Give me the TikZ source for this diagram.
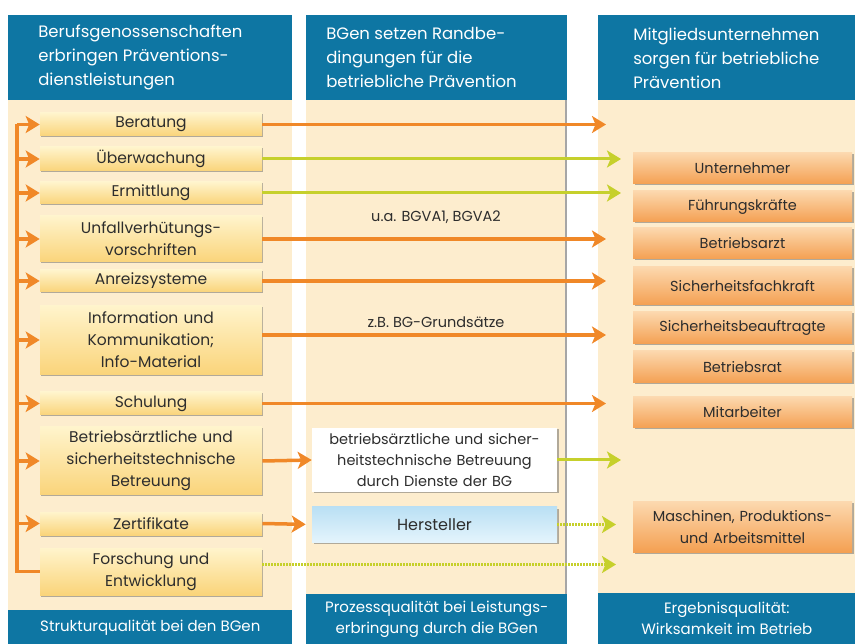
\documentclass[tikz,border=0pt]{standalone}
\usepackage{fontspec}
\setmainfont{Poppins}
\usetikzlibrary{arrows.meta,positioning,shadows}
\definecolor{bgblue}{RGB}{14,118,163}
\definecolor{bgbeige}{RGB}{253,237,206}
\definecolor{arrorange}{RGB}{240,136,40}
\definecolor{arrgreen}{RGB}{198,208,44}
\definecolor{yeltop}{RGB}{255,244,204}
\definecolor{yelbot}{RGB}{250,212,122}
\definecolor{ortop}{RGB}{252,216,174}
\definecolor{orbot}{RGB}{244,160,82}
\definecolor{bltop}{RGB}{186,224,244}
\definecolor{blbot}{RGB}{228,244,252}
\definecolor{txtgray}{RGB}{45,45,45}

\begin{document}
\begin{tikzpicture}[x=1pt,y=-1pt,semithick,
    headbox/.style={fill=bgblue,anchor=north west,inner sep=0pt},
    headtxt/.style={text=white,align=left,anchor=west,inner sep=0pt,font=\fontsize{16.5}{24}\selectfont},
    footbox/.style={fill=bgblue,text=white,align=center,anchor=north west,inner sep=0pt,font=\fontsize{15}{21}\selectfont},
    lbox/.style={top color=yeltop,bottom color=yelbot,text=txtgray,text width=222pt,inner xsep=0pt,inner ysep=0pt,align=center,
        font=\fontsize{15.5}{22}\selectfont,drop shadow={shadow xshift=1pt,shadow yshift=-1.5pt,fill=black!60,opacity=0.5}},
    rbox/.style={top color=ortop,bottom color=orbot,text=txtgray,text width=219pt,inner xsep=0pt,inner ysep=0pt,align=center,
        font=\fontsize{14.5}{22}\selectfont,drop shadow={shadow xshift=1.5pt,shadow yshift=-1.5pt,fill=black!60,opacity=0.5}},
    mbox/.style={text=txtgray,text width=245pt,inner xsep=0pt,inner ysep=0pt,align=center,
        font=\fontsize{14.5}{21}\selectfont,drop shadow={shadow xshift=1.5pt,shadow yshift=-1.5pt,fill=black!60,opacity=0.5}},
    lab/.style={text=txtgray,inner sep=0pt,font=\fontsize{14.5}{20}\selectfont},
    oarr/.style={draw=arrorange,line width=3.5pt,-{Stealth[length=14pt,width=17pt,inset=3.5pt]}},
    garr/.style={draw=arrgreen,line width=3pt,-{Stealth[length=14pt,width=17pt,inset=3.5pt]}},
    gdot/.style={draw=arrgreen,line width=2.5pt,dash pattern=on 1.5pt off 1.5pt,-{Stealth[length=14pt,width=17pt,inset=3.5pt]}},
    oline/.style={draw=arrorange,line width=3.5pt}]
\useasboundingbox (0,0) rectangle (855,644);

\fill[bgbeige] (8,100) rectangle (292,610);
\fill[bgbeige] (306,100) rectangle (567,594);
\fill[bgbeige] (598,100) rectangle (855,593);
\draw[black!35,line width=1.5pt] (566,100) -- (566,594);

\node[headbox,minimum width=284pt,minimum height=85pt] (h1) at (8,15) {};
\node[headbox,minimum width=261pt,minimum height=85pt] (h2) at (306,15) {};
\node[headbox,minimum width=257pt,minimum height=85pt] (h3) at (598,15) {};
\node[headtxt] at ([xshift=30pt]h1.west) {Berufsgenossenschaften\\erbringen Präventions-\\dienstleistungen};
\node[headtxt] at ([xshift=20pt]h2.west) {BGen setzen Randbe-\\dingungen für die\\betriebliche Prävention};
\node[headtxt] at ([xshift=35pt]h3.west) {Mitgliedsunternehmen\\sorgen für betriebliche\\Prävention};

\node[footbox,minimum width=284pt,minimum height=34pt] (f1) at (8,610) {Strukturqualität bei den BGen};
\node[footbox,minimum width=261pt,minimum height=50pt] (f2) at (306,594) {Prozessqualität bei Leistungs-\\erbringung durch die BGen};
\node[footbox,minimum width=257pt,minimum height=51pt] (f3) at (598,593) {Ergebnisqualität:\\Wirksamkeit im Betrieb};

\node[lbox,minimum height=23pt] (ber) at (151,124.5) {Beratung};
\node[lbox,minimum height=24pt] (ueb) at (151,159) {Überwachung};
\node[lbox,minimum height=22pt] (erm) at (151,193) {Ermittlung};
\node[lbox,minimum height=46pt] (unf) at (151,239) {Unfallverhütungs-\\vorschriften};
\node[lbox,minimum height=22pt] (anr) at (151,281) {Anreizsysteme};
\node[lbox,minimum height=69pt] (inf) at (151,340) {Information und\\Kommunikation;\\Info-Material};
\node[lbox,minimum height=23pt] (sch) at (151,403.5) {Schulung};
\node[lbox,minimum height=68pt] (bet) at (151,461) {Betriebsärztliche und\\sicherheitstechnische\\Betreuung};
\node[lbox,minimum height=23pt] (zer) at (151,523.5) {Zertifikate};
\node[lbox,minimum height=47pt] (for) at (151,571.5) {Forschung und\\Entwicklung};

\node[rbox,minimum height=31pt] (unt) at (742.5,168.5) {Unternehmer};
\node[rbox,minimum height=31pt] (fuh) at (742.5,206.5) {Führungskräfte};
\node[rbox,minimum height=31pt] (bea) at (742.5,243.5) {Betriebsarzt};
\node[rbox,minimum height=38pt] (sfk) at (742.5,286) {Sicherheitsfachkraft};
\node[rbox,minimum height=32pt] (sbe) at (742.5,328) {Sicherheitsbeauftragte};
\node[rbox,minimum height=32pt] (brt) at (742.5,367) {Betriebsrat};
\node[rbox,minimum height=31pt] (mit) at (742.5,412.5) {Mitarbeiter};
\node[rbox,minimum height=50pt] (mas) at (742.5,527) {Maschinen, Produktions-\\und Arbeitsmittel};

\node[mbox,fill=white,minimum height=64pt] (bd) at (434.5,460) {betriebsärztliche und sicher-\\heitstechnische Betreuung\\durch Dienste der BG};
\node[mbox,top color=bltop,bottom color=blbot,minimum height=35pt,font=\fontsize{16}{21}\selectfont] (her) at (434.5,524.5) {Hersteller};

\node[lab] (bgv) at (436,217) {u.a. BGVA1, BGVA2};
\node[lab] (grd) at (436,322) {z.B. BG-Grundsätze};

\coordinate (lx) at (17,0);
\coordinate (ox) at (606,0);
\coordinate (gx) at (621,0);
\coordinate (dx) at (616,0);

\draw[oline] (ber.west -| lx) -- (for.west -| lx) -- (for.west);
\foreach \n in {ber,ueb,erm,unf,anr,inf,sch,bet,zer}
    \draw[oarr] (\n.west -| lx) -- (\n.west);

\foreach \n in {ber,unf,anr,sch}
    \draw[oarr] (\n.east) -- (\n.east -| ox);
\draw[oarr] ([yshift=5pt]inf.east) -- ([yshift=5pt]inf.east -| ox);
\foreach \n in {ueb,erm}
    \draw[garr] (\n.east) -- (\n.east -| gx);

\draw[oarr] (bet.east) -- (bd.west);
\draw[oarr,shorten >=6pt] (zer.east) -- (her.west);
\draw[garr] (bd.east) -- (bd.east -| gx);
\draw[gdot] (her.east) -- (her.east -| dx);
\draw[gdot] ([yshift=7pt]for.east) -- ([yshift=7pt]for.east -| dx);
\end{tikzpicture}
\end{document}
